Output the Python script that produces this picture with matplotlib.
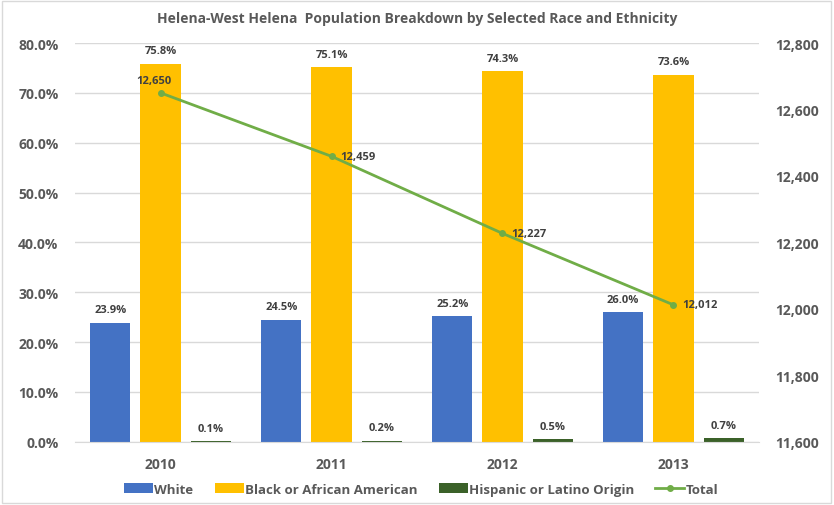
import matplotlib.pyplot as plt
import numpy as np
from matplotlib.patches import Rectangle

plt.rcParams['font.family'] = ['Open Sans', 'DejaVu Sans']

years = ['2010', '2011', '2012', '2013']
white = [23.9, 24.5, 25.2, 26.0]
black = [75.8, 75.1, 74.3, 73.6]
hispanic = [0.1, 0.2, 0.5, 0.7]
total = [12650, 12459, 12227, 12012]

grey = '#595959'
fig = plt.figure(figsize=(8.34, 5.06), dpi=100)
ax = fig.add_axes([0.09, 0.125, 0.82, 0.788])
ax2 = ax.twinx()

x = np.arange(len(years))
w = 0.235
off = 0.294
b1 = ax.bar(x - off, white, w, color='#4472C4', label='White', zorder=2)
b2 = ax.bar(x, black, w, color='#FFC000', label='Black or African American', zorder=2)
b3 = ax.bar(x + off, hispanic, w, color='#3B6129', label='Hispanic or Latino Origin', zorder=2)

for bars, vals in [(b1, white), (b2, black), (b3, hispanic)]:
    for r, v in zip(bars, vals):
        ax.text(r.get_x() + r.get_width() / 2, v + 1.5, '%.1f%%' % v, ha='center', va='bottom',
                fontsize=8, fontweight='bold', color='#404040')

ax.set_ylim(0, 80)
ax.set_yticks(np.arange(0, 81, 10))
ax.set_yticklabels(['%.1f%%' % t for t in np.arange(0, 81, 10)])
ax.set_xlim(-0.5, 3.5)
ax.set_xticks(x)
ax.set_xticklabels(years)
ax.grid(axis='y', color='#D9D9D9', lw=1, zorder=0)
ax.set_axisbelow(True)

ln, = ax2.plot(x, total, color='#70AD47', lw=2, marker='o', ms=4, label='Total', zorder=3)
ax2.set_ylim(11600, 12800)
ax2.set_yticks(np.arange(11600, 12801, 200))
ax2.set_yticklabels(['{:,}'.format(t) for t in range(11600, 12801, 200)])
for i, v in enumerate(total):
    if i == 0:
        ax2.text(x[i] - 0.04, v + 22, '{:,}'.format(v), ha='center', va='bottom',
                 fontsize=8, fontweight='bold', color='#404040')
    else:
        ax2.text(x[i] + 0.05, v, '{:,}'.format(v), ha='left', va='center',
                 fontsize=8, fontweight='bold', color='#404040')

for a in (ax, ax2):
    for s in a.spines.values():
        s.set_visible(False)
    a.tick_params(length=0, labelsize=10, labelcolor=grey)
    for lab in a.get_xticklabels() + a.get_yticklabels():
        lab.set_fontweight('bold')
ax.spines['bottom'].set_visible(True)
ax.spines['bottom'].set_color('#D9D9D9')
ax.tick_params(axis='x', pad=11)
ax.tick_params(axis='y', pad=12)
ax2.tick_params(axis='y', pad=12)

fig.suptitle('Helena-West Helena  Population Breakdown by Selected Race and Ethnicity',
             y=0.977, fontsize=10, fontweight='bold', color=grey)

leg = fig.legend(handles=[b1, b2, b3, ln], loc='lower center', bbox_to_anchor=(0.505, -0.005),
                 ncol=4, frameon=False, fontsize=9.5, handlelength=2.2, handletextpad=0.1,
                 columnspacing=1.6)
for t in leg.get_texts():
    t.set_color(grey)
    t.set_fontweight('bold')

fig.patches.append(Rectangle((0.002, 0.004), 0.994, 0.992, transform=fig.transFigure,
                             fill=False, ec='#D9D9D9', lw=1))

plt.savefig('out.png', dpi=100)
